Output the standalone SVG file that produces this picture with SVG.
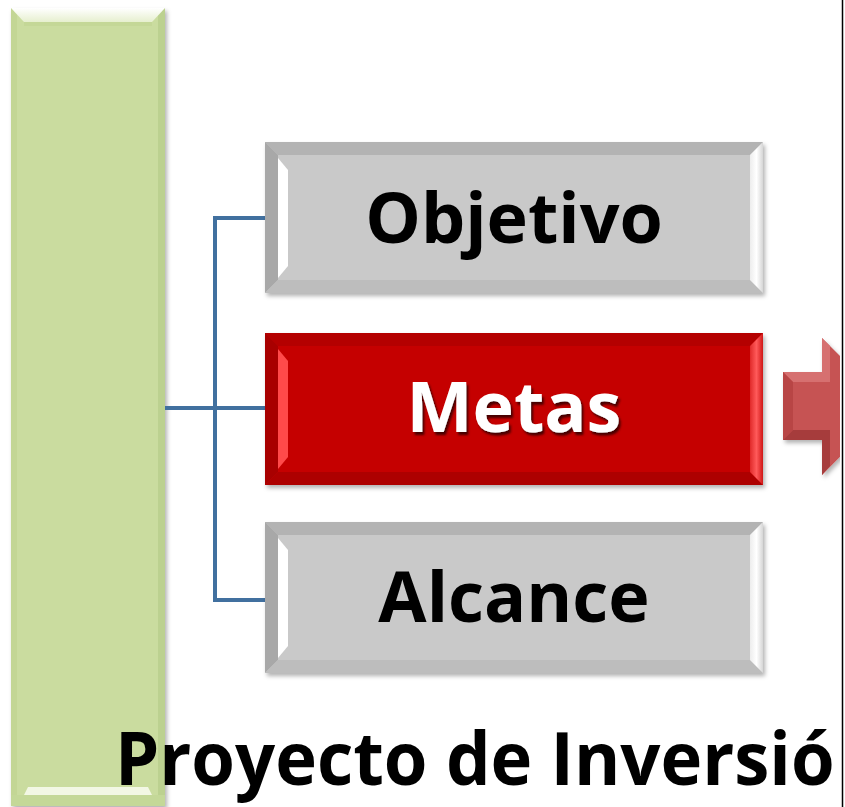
<svg xmlns="http://www.w3.org/2000/svg" width="845" height="807" viewBox="0 0 845 807">
<defs>
<style>
.lbl{font-family:"Open Sans","Noto Sans","DejaVu Sans",sans-serif;font-weight:700;font-size:70px;text-anchor:middle}
.conn{stroke:#41709f;stroke-width:4;fill:none;stroke-linejoin:miter}
.hl{fill:#ffffff}
</style>
<filter id="sh" x="-5%" y="-5%" width="115%" height="120%">
<feDropShadow dx="2" dy="3" stdDeviation="2" flood-color="#000" flood-opacity="0.3"/>
</filter>
<filter id="tsh" x="-5%" y="-5%" width="115%" height="130%">
<feDropShadow dx="2" dy="3" stdDeviation="1.2" flood-color="#300000" flood-opacity="0.85"/>
</filter>
<linearGradient id="gTop" x1="0" y1="0" x2="0" y2="1">
<stop offset="0" stop-color="#ffffff"/>
<stop offset="1" stop-color="#e6efcf"/>
</linearGradient>
<linearGradient id="gRight" x1="0" y1="0" x2="1" y2="0">
<stop offset="0" stop-color="#ededed"/>
<stop offset="0.5" stop-color="#ffffff"/>
<stop offset="1" stop-color="#d6d6d6"/>
</linearGradient>
<linearGradient id="rRight" x1="0" y1="0" x2="1" y2="0">
<stop offset="0" stop-color="#e02a2a"/>
<stop offset="0.5" stop-color="#ff5a5a"/>
<stop offset="1" stop-color="#d01818"/>
</linearGradient>
<clipPath id="page"><rect x="0" y="0" width="840" height="807"/></clipPath>
</defs>
<rect x="0" y="0" width="845" height="807" fill="#ffffff"/>
<g clip-path="url(#page)">
<g id="bar">
<rect x="11" y="8" width="154" height="798" fill="#cadc9f" filter="url(#sh)"/>
<rect x="11" y="8" width="6" height="798" fill="#c3d695"/>
<rect x="158" y="8" width="7" height="798" fill="#bcd190"/>
<polygon points="11,8 165,8 152,22 24,22" fill="url(#gTop)"/>
<rect x="24" y="22" width="128" height="4" fill="#c0d492" opacity="0.6"/>
<polygon points="28,787 148,787 152,795 24,795" fill="#f2f7e4"/>
<rect x="11" y="795" width="154" height="11" fill="#c4d898"/>
</g>
<g id="connectors">
<path class="conn" d="M165,408 H265"/>
<path class="conn" d="M265,218 H215 V600 H265"/>
</g>
<g id="objetivo">
<g filter="url(#sh)">
<rect x="265" y="142" width="498" height="151" fill="#c9c9c9"/>
</g>
<polygon points="265,142 763,142 750,155 278,155" fill="#b3b3b3"/>
<polygon points="265,142 278,155 278,280 265,293" fill="#a8a8a8"/>
<polygon points="265,293 278,280 750,280 763,293" fill="#bdbdbd"/>
<polygon points="763,142 750,155 750,280 763,293" fill="url(#gRight)"/>
<polygon class="hl" points="278,158 288,170 288,266 278,278"/>
<text class="lbl" x="514" y="243" fill="#000000">Objetivo</text>
</g>
<g id="metas">
<g filter="url(#sh)">
<rect x="265" y="333" width="498" height="152" fill="#c50000"/>
</g>
<polygon points="265,333 763,333 750,346 278,346" fill="#b40000"/>
<polygon points="265,333 278,346 278,472 265,485" fill="#a80000"/>
<polygon points="265,485 278,472 750,472 763,485" fill="#ad0000"/>
<polygon points="763,333 750,346 750,472 763,485" fill="url(#rRight)"/>
<polygon points="278,349 288,361 288,457 278,469" fill="#ff4a4a"/>
<text class="lbl" x="514" y="432" fill="#ffffff" filter="url(#tsh)">Metas</text>
</g>
<g id="alcance">
<g filter="url(#sh)">
<rect x="265" y="522" width="498" height="151" fill="#c9c9c9"/>
</g>
<polygon points="265,522 763,522 750,535 278,535" fill="#b3b3b3"/>
<polygon points="265,522 278,535 278,660 265,673" fill="#a8a8a8"/>
<polygon points="265,673 278,660 750,660 763,673" fill="#bdbdbd"/>
<polygon points="763,522 750,535 750,660 763,673" fill="url(#gRight)"/>
<polygon class="hl" points="278,538 288,550 288,646 278,658"/>
<text class="lbl" x="514" y="622" fill="#000000">Alcance</text>
</g>
<g id="arrow">
<polygon points="783,372 822,372 822,338 890,406 822,475 822,440 783,440" fill="#c65252" filter="url(#sh)"/>
<polygon points="783,372 822,372 822,338 830,346 830,382 793,382" fill="#d67070"/>
<polygon points="783,372 793,382 793,430 783,440" fill="#b84545"/>
<polygon points="783,440 793,430 830,430 830,466 822,475 822,440" fill="#a63c3c"/>
</g>
<text x="115" y="785" font-family="'Open Sans','Noto Sans','DejaVu Sans',sans-serif" font-weight="700" font-size="74" textLength="766" lengthAdjust="spacingAndGlyphs" fill="#000000">Proyecto de Inversión</text>
</g>
<line x1="842.5" y1="0" x2="842.5" y2="807" stroke="#000000" stroke-width="1.5"/>
</svg>
